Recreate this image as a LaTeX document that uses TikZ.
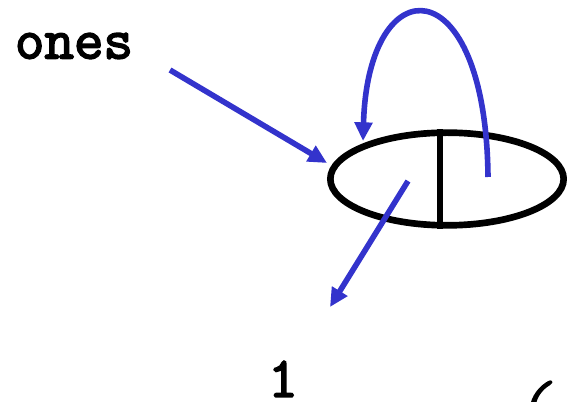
\documentclass[tikz,border=0pt]{standalone}
\usepackage{fontspec}
\newfontfamily\courb{Latin Modern Mono}[FakeBold=3]
\usetikzlibrary{arrows.meta,shapes.geometric}
\definecolor{ptrblue}{RGB}{51,51,204}
\begin{document}
\begin{tikzpicture}[x=0.75pt,y=-0.75pt,
  ptr/.style={draw=ptrblue, line width=4.2pt, -{Triangle[length=14pt,width=13pt]}},
  lbl/.style={font=\courb\fontsize{43}{45}\selectfont, inner sep=0pt},
  cellbox/.style={draw, ellipse, line width=5pt, inner sep=0pt,
    minimum width=175pt, minimum height=69.5pt}]
\useasboundingbox (0,0) rectangle (567,402);
\node[cellbox] (cell) at (447,179) {};
\coordinate (divx) at (440,0);
\draw[line width=4.6pt] (cell.north -| divx) -- (cell.south -| divx);
\node[lbl] (ones) at (74,46) {ones};
\node[lbl] (one) at (283,379) {1};
\node[lbl, anchor=north west, xslant=0.25] (paren) at (527,381) {(};
\coordinate (onesfrom) at (170,70);
\coordinate (onesto) at (327,163);
\coordinate (carfrom) at (408,181);
\coordinate (carto) at (330,307);
\coordinate (cdrfrom) at (488,177);
\coordinate (cdrto) at (363,141);
\draw[ptr] (onesfrom) -- (onesto);
\draw[ptr] (carfrom) -- (carto);
\draw[ptr] (cdrfrom) .. controls (486,-35) and (368,-35) .. (cdrto);
\end{tikzpicture}
\end{document}
